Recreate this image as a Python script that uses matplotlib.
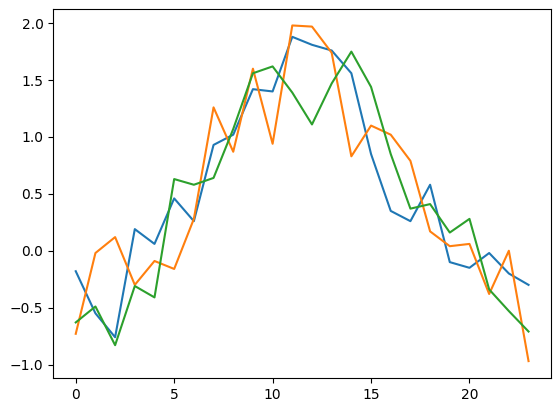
import numpy as np
import matplotlib.pyplot as plt

x = np.arange(24)
blue = [-0.18, -0.55, -0.76, 0.19, 0.06, 0.46, 0.26, 0.93, 1.02, 1.42, 1.40, 1.88,
        1.81, 1.76, 1.56, 0.85, 0.35, 0.26, 0.58, -0.10, -0.15, -0.02, -0.20, -0.30]
orange = [-0.73, -0.02, 0.12, -0.30, -0.09, -0.16, 0.28, 1.26, 0.87, 1.60, 0.94, 1.98,
          1.97, 1.74, 0.83, 1.10, 1.02, 0.79, 0.17, 0.04, 0.06, -0.38, 0.00, -0.97]
green = [-0.63, -0.49, -0.83, -0.31, -0.41, 0.63, 0.58, 0.64, 1.07, 1.56, 1.62, 1.39,
         1.11, 1.47, 1.75, 1.44, 0.85, 0.37, 0.41, 0.16, 0.28, -0.34, -0.53, -0.71]

fig, ax = plt.subplots(figsize=(5.59, 4.13), dpi=100)
fig.subplots_adjust(left=0.095, right=0.986, top=0.979, bottom=0.085)
ax.plot(x, blue)
ax.plot(x, orange)
ax.plot(x, green)
fig.savefig('out.png')
